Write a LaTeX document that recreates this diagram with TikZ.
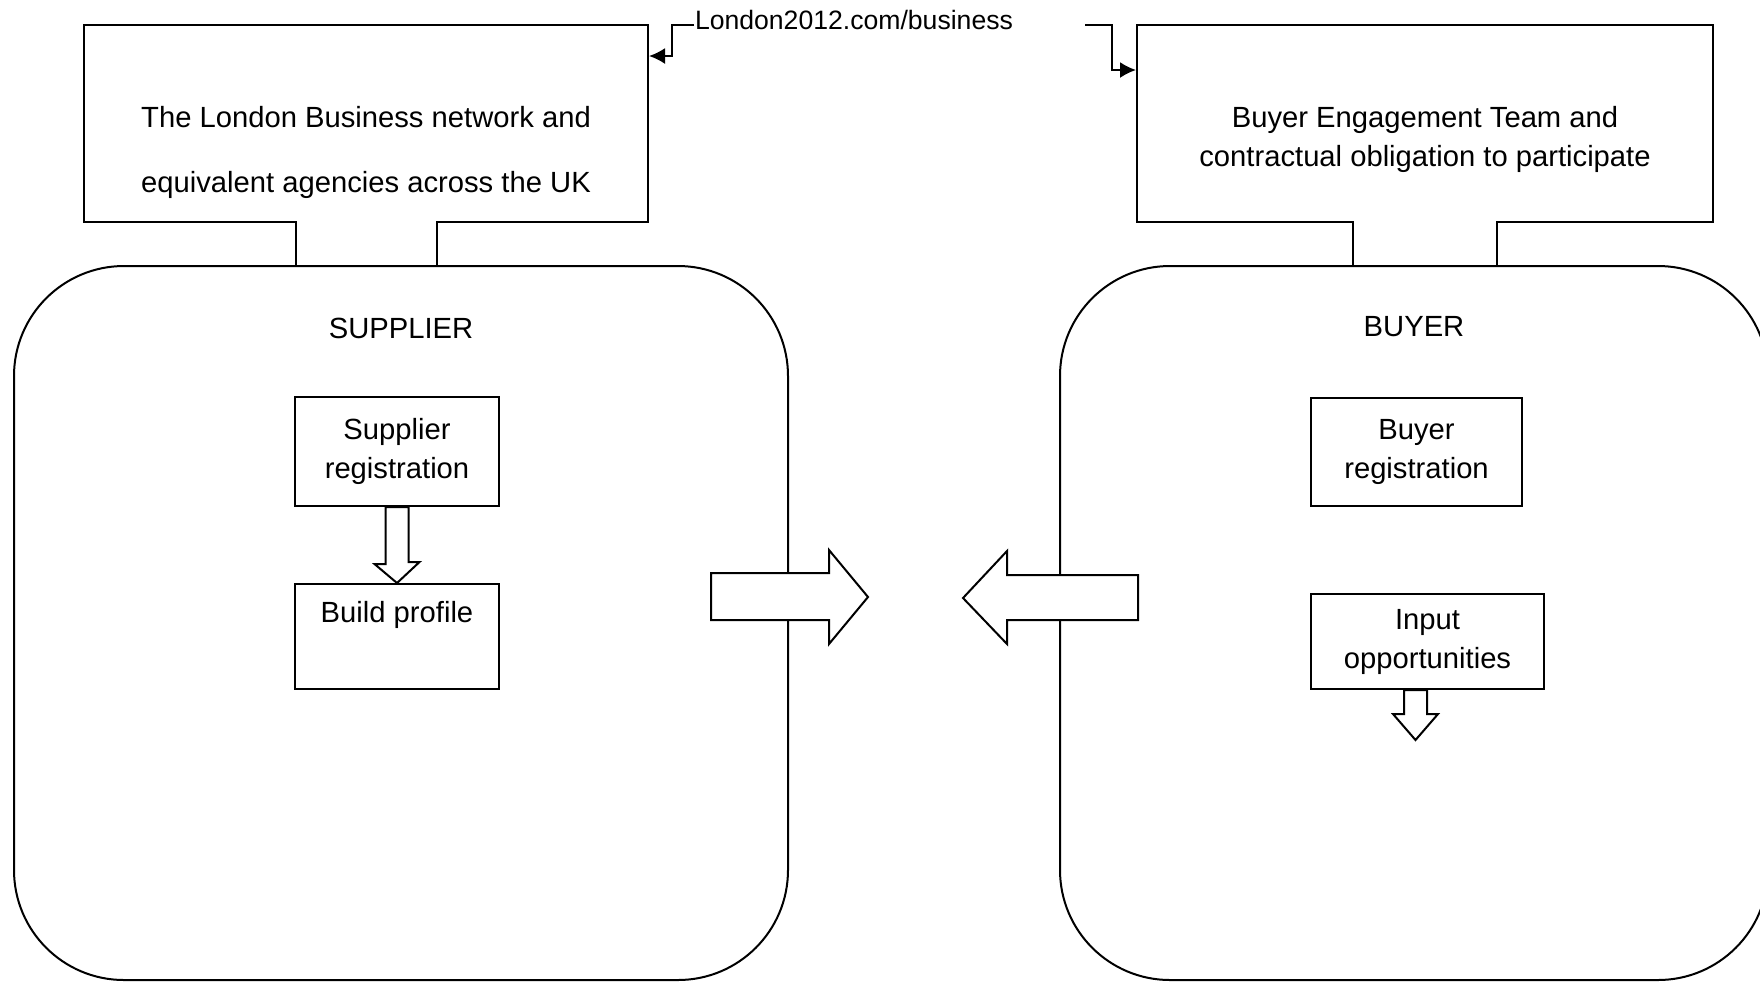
\documentclass[tikz,border=0pt]{standalone}
\usepackage{fontspec}
\setmainfont{Liberation Sans}
\usepackage{tikz}
\usetikzlibrary{arrows.meta, positioning, calc}
\newcommand{\diagfont}{\fontsize{14.6pt}{19.5pt}\selectfont}
\newcommand{\linkfont}{\fontsize{13.3pt}{16pt}\selectfont}

\begin{document}
\begin{tikzpicture}[
  x=0.5pt, y=-0.5pt, line width=1pt,
  sbox/.style={draw, inner sep=2pt, align=center, font=\diagfont},
  region/.style={draw, rounded corners=55pt, inner sep=0pt},
  plain/.style={inner sep=0pt, align=center, font=\diagfont},
  blockarr/.style={draw, fill=white},
  conn/.style={-{Latex[length=8pt, width=8pt]}}
]
  \clip (0,0) rectangle (1760,982);

  % the two sides
  \node[region, minimum width=387pt, minimum height=357pt] (supp) at (401,623) {};
  \node[region, minimum width=354pt, minimum height=357pt] (buy) at (1414,623) {};
  \node[plain] (supptitle) at (401,328) {SUPPLIER};
  \node[plain] (buytitle) at (1414,327) {BUYER};

  % agency boxes on top
  \node[sbox, minimum width=282pt, minimum height=98.5pt] (lbiz) at (366,123.5) {};
  \node[sbox, minimum width=288pt, minimum height=98.5pt] (rbiz) at (1425,123.5) {};
  \node[plain] (lbiztxt) at (366,152)
    {The London Business network and\\[13pt]equivalent agencies across the UK};
  \node[plain] (rbiztxt) at (1425,139.5)
    {Buyer Engagement Team and\\contractual obligation to participate};

  \coordinate (n1) at (296,0);
  \coordinate (n2) at (437,0);
  \coordinate (n3) at (1353,0);
  \coordinate (n4) at (1497,0);
  \fill[white] (297,219) rectangle (436,264);
  \fill[white] (1354,219) rectangle (1496,264);
  \draw (lbiz.south -| n1) -- (supp.north -| n1);
  \draw (lbiz.south -| n2) -- (supp.north -| n2);
  \draw (rbiz.south -| n3) -- (buy.north -| n3);
  \draw (rbiz.south -| n4) -- (buy.north -| n4);

  % web address
  \node[inner sep=0pt, text width=194.5pt, align=left, font=\linkfont] (lnk) at (889.5,20)
    {London2012.com/business};
  \draw[conn] ($(lnk.west)+(0,5)$) -- ++(-22,0) |- ($(lbiz.north east)+(0,32)$);
  \draw[conn] ($(lnk.east)+(0,5)$) -- ++(27,0) |- ($(rbiz.north west)+(0,46)$);

  % supplier steps
  \node[sbox, minimum width=102pt, minimum height=54.5pt] (sreg) at (397,451.5)
    {Supplier\\registration};
  \node[sbox, minimum width=102pt, minimum height=52.5pt] (bprof) at (397,636.5)
    {Build profile\\[5pt]~};
  \draw[blockarr] ($(sreg.south)+(-11.5,0)$) -- ++(0,57) -- ++(-11,0)
    -- (bprof.north) -- ++(22.5,-21) -- ++(-11,0)
    -- ($(sreg.south)+(11.5,0)$) -- cycle;

  % buyer steps
  \node[sbox, minimum width=105.5pt, minimum height=54pt] (breg) at (1416.5,452)
    {Buyer\\registration};
  \node[sbox, minimum width=116.5pt, minimum height=47.5pt] (inopp) at (1427.5,641.5)
    {Input\\opportunities};
  \draw[blockarr] ($(inopp.south)+(-23.5,0)$) -- ++(0,24) -- ++(-11,0)
    -- ++(22.5,26) -- ++(22.5,-26) -- ++(-11,0) -- ++(0,-24) -- cycle;

  % exchange between the sides
  \draw[blockarr] (711,573) -- (829,573) -- (829,550) -- (868,597)
    -- (829,644) -- (829,620) -- (711,620) -- cycle;
  \draw[blockarr] (1138,575) -- (1007,575) -- (1007,551) -- (963,598)
    -- (1007,644) -- (1007,620) -- (1138,620) -- cycle;
\end{tikzpicture}
\end{document}
